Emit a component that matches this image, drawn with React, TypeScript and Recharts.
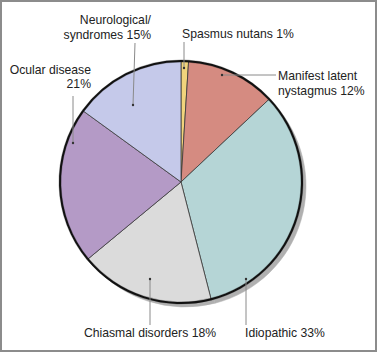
import React from 'react';
import { PieChart, Pie, Cell } from 'recharts';

// causes of nystagmus, share in percent
const categories = [
  'Spasmus nutans',
  'Manifest latent nystagmus',
  'Idiopathic',
  'Chiasmal disorders',
  'Ocular disease',
  'Neurological/ syndromes',
];
const values = [1, 12, 33, 18, 21, 15];
const colors = ['#f1d47c', '#d58b81', '#b5d5d6', '#dbdbdb', '#b49ac6', '#c5c9ea'];

const data = categories.map((name, i) => ({ name, value: values[i] }));

// label placement, offsets from the pie centre
// dot = end of leader inside slice, end = other end of leader, text = first baseline
const labelLayout = [
  { dot: [3, -114], end: [3, -140], text: [1, -144], anchor: 'start', wrapAt: 0 },
  { dot: [41, -107], end: [95, -107], text: [97, -102], anchor: 'start', wrapAt: 2 },
  { dot: [65, 97], end: [65, 143], text: [64, 155], anchor: 'start', wrapAt: 0 },
  { dot: [-31, 97], end: [-31, 143], text: [-31, 155], anchor: 'middle', wrapAt: 0 },
  { dot: [-108, -39], end: [-108, -86], text: [-90, -108.5], anchor: 'end', wrapAt: 2 },
  { dot: [-48, -77], end: [-46, -139], text: [-30, -158], anchor: 'end', wrapAt: 1 },
];

const LINE_HEIGHT = 14.5;

function renderLabel(props: any) {
  const { cx, cy, index } = props;
  const layout = labelLayout[index];
  const words = `${categories[index]} ${values[index]}%`.split(' ');
  const lines = layout.wrapAt
    ? [words.slice(0, layout.wrapAt).join(' '), words.slice(layout.wrapAt).join(' ')]
    : [words.join(' ')];
  return (
    <g key={`label-${index}`}>
      <line
        x1={cx + layout.dot[0]}
        y1={cy + layout.dot[1]}
        x2={cx + layout.end[0]}
        y2={cy + layout.end[1]}
        stroke="#8a8a8a"
        strokeWidth={1}
      />
      <circle cx={cx + layout.dot[0]} cy={cy + layout.dot[1]} r={1.2} fill="#333" />
      <text
        x={cx + layout.text[0]}
        y={cy + layout.text[1]}
        textAnchor={layout.anchor}
        fontSize={12.2}
        fill="#222"
      >
        {lines.map((line, i) => (
          <tspan key={i} x={cx + layout.text[0]} dy={i === 0 ? 0 : LINE_HEIGHT}>
            {line}
          </tspan>
        ))}
      </text>
    </g>
  );
}

export default function App() {
  return (
    <div
      style={{
        position: 'absolute',
        left: 0,
        top: 0,
        width: 377,
        height: 352,
        background: '#fff',
        boxShadow: 'inset 0 0 0 2px #8c8c8c',
      }}
    >
      <PieChart
        width={377}
        height={352}
        margin={{ top: 0, right: 0, bottom: 0, left: 0 }}
        style={{ fontFamily: '"Liberation Sans", Arial, sans-serif' }}
      >
        {/* drop shadow */}
        <Pie
          data={data}
          dataKey="value"
          cx={185}
          cy={186}
          outerRadius={121}
          startAngle={90}
          endAngle={-270}
          fill="#b0b0b0"
          stroke="#b0b0b0"
          strokeWidth={0.5}
          isAnimationActive={false}
        />
        <Pie
          data={data}
          dataKey="value"
          cx={181}
          cy={182}
          outerRadius={121}
          startAngle={90}
          endAngle={-270}
          stroke="#3a3a3a"
          strokeWidth={0.8}
          isAnimationActive={false}
        >
          {data.map((d, i) => (
            <Cell key={d.name} fill={colors[i]} />
          ))}
        </Pie>
        {/* black outline, carries the labels so they sit on top */}
        <Pie
          data={data}
          dataKey="value"
          cx={181}
          cy={182}
          innerRadius={120}
          outerRadius={122}
          startAngle={90}
          endAngle={-270}
          fill="#111"
          stroke="#111"
          strokeWidth={0.3}
          label={renderLabel}
          labelLine={false}
          isAnimationActive={false}
        />
      </PieChart>
    </div>
  );
}
